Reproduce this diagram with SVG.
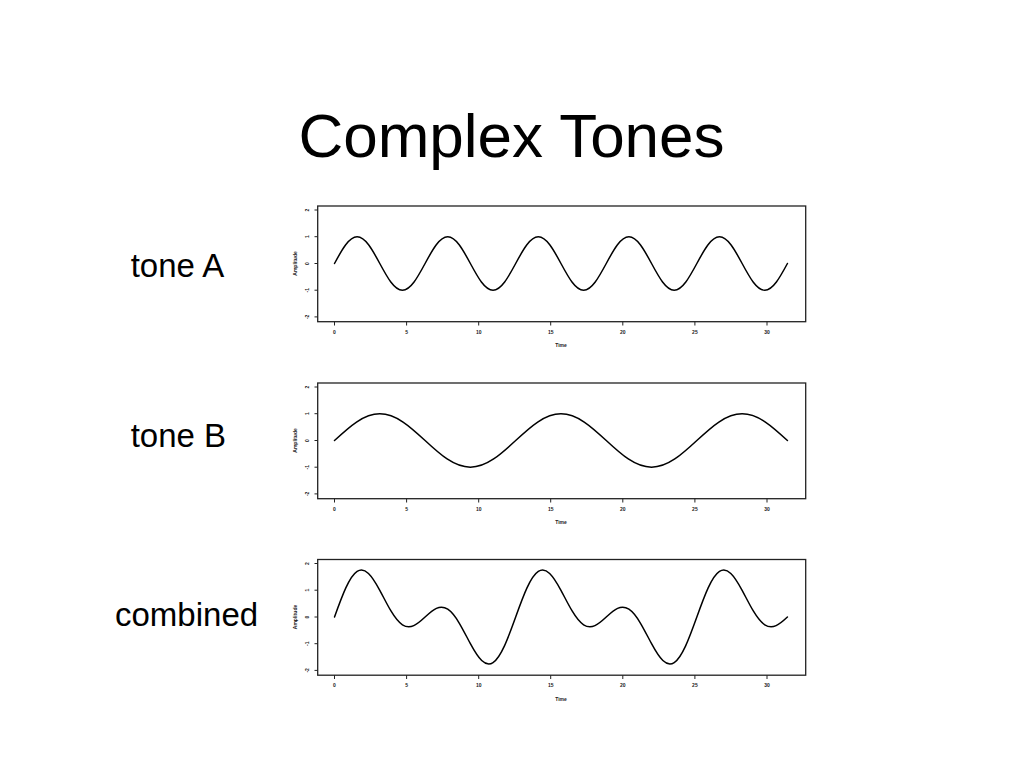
<svg xmlns="http://www.w3.org/2000/svg" xmlns:xlink="http://www.w3.org/1999/xlink" width="1024" height="768" viewBox="0 0 1024 768">
<style>
.bg{fill:#ffffff}
.title{font-family:"Liberation Sans",Arial,sans-serif;font-size:62px;fill:#000;text-anchor:middle}
.lbl{font-family:"Liberation Sans",Arial,sans-serif;font-size:33px;fill:#000}
.frame{fill:none;stroke:#222;stroke-width:1.3}
.tick{fill:none;stroke:#222;stroke-width:1}
.tl{font-family:"Liberation Sans",Arial,sans-serif;font-size:5px;font-weight:bold;fill:#222;text-anchor:middle}
.curve{fill:none;stroke:#000;stroke-width:1.5;stroke-linejoin:round;stroke-linecap:round;vector-effect:non-scaling-stroke}
</style>
<defs>
<g id="axes">
<rect class="frame" x="317.7" y="206" width="488" height="115.7"/>
<path class="tick" d="M314.5 210H317.7M314.5 236.7H317.7M314.5 263.5H317.7M314.5 290.2H317.7M314.5 316.9H317.7"/>
<path class="tick" d="M334.5 321.7V325.5M406.6 321.7V325.5M478.7 321.7V325.5M550.7 321.7V325.5M622.8 321.7V325.5M694.9 321.7V325.5M767 321.7V325.5"/>
<g class="tl">
<text transform="translate(309,210) rotate(-90)">2</text>
<text transform="translate(309,236.7) rotate(-90)">1</text>
<text transform="translate(309,263.5) rotate(-90)">0</text>
<text transform="translate(309,290.2) rotate(-90)">-1</text>
<text transform="translate(309,316.9) rotate(-90)">-2</text>
<text transform="translate(296.5,263.5) rotate(-90)">Amplitude</text>
<text x="334.5" y="333.5">0</text>
<text x="406.6" y="333.5">5</text>
<text x="478.7" y="333.5">10</text>
<text x="550.7" y="333.5">15</text>
<text x="622.8" y="333.5">20</text>
<text x="694.9" y="333.5">25</text>
<text x="767" y="333.5">30</text>
<text x="561" y="347">Time</text>
</g>
</g>
</defs>
<rect class="bg" x="0" y="0" width="1024" height="768"/>
<text class="title" x="511.5" y="157">Complex Tones</text>

<g id="toneA">
<text class="lbl" x="130.7" y="277">tone A</text>
<use xlink:href="#axes" href="#axes"/>
<path class="curve" transform="matrix(14.417 0 0 -26.7 334.5 263.5)" d="M0 0
c0.5123,0.5123 1.0023,1 1.5708,1 c0.5685,0 1.0585,-0.4877 1.5708,-1 c0.5123,-0.5123 1.0023,-1 1.5708,-1 c0.5685,0 1.0585,0.4877 1.5708,1
c0.5123,0.5123 1.0023,1 1.5708,1 c0.5685,0 1.0585,-0.4877 1.5708,-1 c0.5123,-0.5123 1.0023,-1 1.5708,-1 c0.5685,0 1.0585,0.4877 1.5708,1
c0.5123,0.5123 1.0023,1 1.5708,1 c0.5685,0 1.0585,-0.4877 1.5708,-1 c0.5123,-0.5123 1.0023,-1 1.5708,-1 c0.5685,0 1.0585,0.4877 1.5708,1
c0.5123,0.5123 1.0023,1 1.5708,1 c0.5685,0 1.0585,-0.4877 1.5708,-1 c0.5123,-0.5123 1.0023,-1 1.5708,-1 c0.5685,0 1.0585,0.4877 1.5708,1
c0.5123,0.5123 1.0023,1 1.5708,1 c0.5685,0 1.0585,-0.4877 1.5708,-1 c0.5123,-0.5123 1.0023,-1 1.5708,-1 c0.5685,0 1.0585,0.4877 1.5708,1"/>
</g>

<g id="toneB">
<text class="lbl" x="130.7" y="447">tone B</text>
<use xlink:href="#axes" href="#axes" transform="translate(0,177)"/>
<path class="curve" transform="matrix(14.417 0 0 -26.7 334.5 440.5)" d="M0 0
c1.0246,0.5123 2.0046,1 3.1416,1 c1.137,0 2.117,-0.4877 3.1416,-1 c1.0246,-0.5123 2.0046,-1 3.1416,-1 c1.137,0 2.117,0.4877 3.1416,1
c1.0246,0.5123 2.0046,1 3.1416,1 c1.137,0 2.117,-0.4877 3.1416,-1 c1.0246,-0.5123 2.0046,-1 3.1416,-1 c1.137,0 2.117,0.4877 3.1416,1
c1.0246,0.5123 2.0046,1 3.1416,1 c1.137,0 2.117,-0.4877 3.1416,-1"/>
</g>

<g id="combined">
<text class="lbl" x="115" y="626">combined</text>
<use xlink:href="#axes" href="#axes" transform="translate(0,353.5)"/>
<path class="curve" transform="matrix(14.417 0 0 -26.7 334.5 617)" d="M0 0
c.2618,.3927 .5236,.78373 .7854,1.08979
c.2618,.30606 .5236,.52476 .7854,.61732
c.2618,.09256 .5236,.05891 .7854,-.07612
c.2618,-.13503 .5236,-.36919 .7854,-.63099
c.2618,-.2618 .5236,-.54802 .7854,-.78323
c.2618,-.23521 .5236,-.4171 .7854,-.50966
c.2618,-.09256 .5236,-.09573 .7854,-.03154
c.2618,.06419 .5236,.19353 .7854,.32443
c.2618,.1309 .5236,.26024 .7854,.32443
c.2618,.06419 .5236,.06102 .7854,-.03154
c.2618,-.09256 .5236,-.27445 .7854,-.50966
c.2618,-.23521 .5236,-.52143 .7854,-.78323
c.2618,-.2618 .5236,-.49596 .7854,-.63099
c.2618,-.13503 .5236,-.16868 .7854,-.07612
c.2618,.09256 .5236,.31126 .7854,.61732
c.2618,.30606 .5236,.69709 .7854,1.08979
c.2618,.3927 .5236,.78373 .7854,1.08979
c.2618,.30606 .5236,.52476 .7854,.61732
c.2618,.09256 .5236,.05891 .7854,-.07612
c.2618,-.13503 .5236,-.36919 .7854,-.63099
c.2618,-.2618 .5236,-.54802 .7854,-.78323
c.2618,-.23521 .5236,-.4171 .7854,-.50966
c.2618,-.09256 .5236,-.09573 .7854,-.03154
c.2618,.06419 .5236,.19353 .7854,.32443
c.2618,.1309 .5236,.26024 .7854,.32443
c.2618,.06419 .5236,.06102 .7854,-.03154
c.2618,-.09256 .5236,-.27445 .7854,-.50966
c.2618,-.23521 .5236,-.52143 .7854,-.78323
c.2618,-.2618 .5236,-.49596 .7854,-.63099
c.2618,-.13503 .5236,-.16868 .7854,-.07612
c.2618,.09256 .5236,.31126 .7854,.61732
c.2618,.30606 .5236,.69709 .7854,1.08979
c.2618,.3927 .5236,.78373 .7854,1.08979
c.2618,.30606 .5236,.52476 .7854,.61732
c.2618,.09256 .5236,.05891 .7854,-.07612
c.2618,-.13503 .5236,-.36919 .7854,-.63099
c.2618,-.2618 .5236,-.54802 .7854,-.78323
c.2618,-.23521 .5236,-.4171 .7854,-.50966
c.2618,-.09256 .5236,-.09573 .7854,-.03154
c.2618,.06419 .5236,.19353 .7854,.32443"/>
</g>
</svg>
